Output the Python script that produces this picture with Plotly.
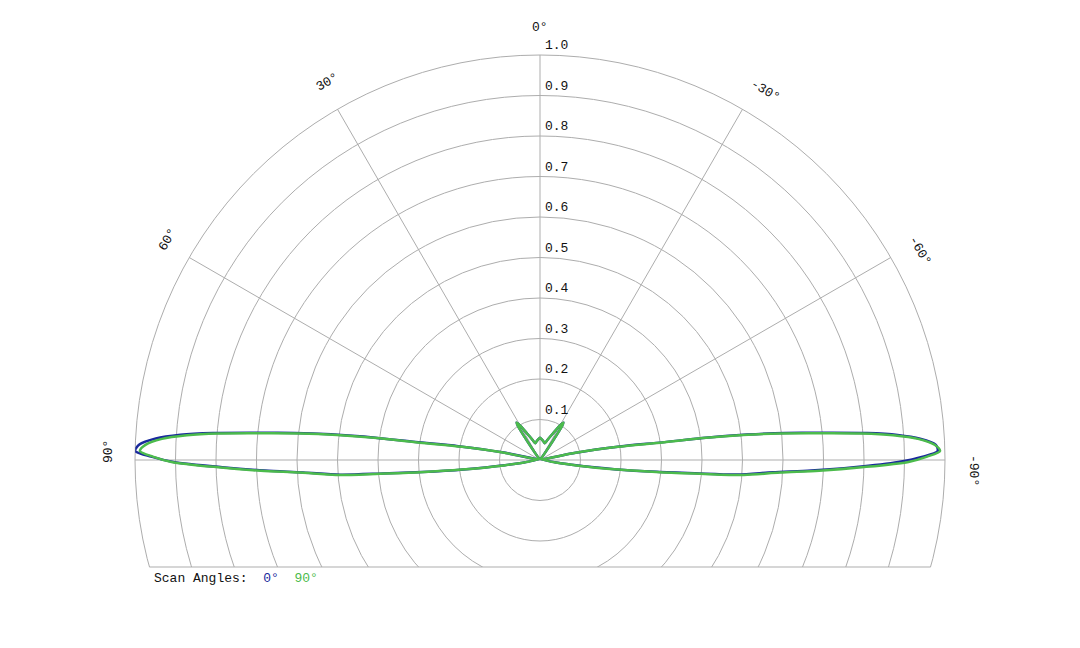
import math
import plotly.graph_objects as go

# Patrón de radiación normalizado (ángulo en grados, 0° arriba)
THETA_DEG = [
    -180, -100.5, -98.5, -97.0, -95.8, -94.9, -94.2, -93.0, -92.2, -91.3,
    -90.3, -89.5, -88.7, -87.8, -86.8, -86.0, -85.3, -84.5, -83.7, -83.0,
    -82.3, -81.8, -80.4, -78.5, -76.5,
    -36, -35, -34, -33, -32, -30, -27, -24, -20, -16,
    -10, -5, 0, 5, 10, 16, 20, 24, 27, 30,
    32, 33, 34, 35, 36,
    76.5, 78.5, 80.4, 81.8, 82.3, 83.0, 83.7, 84.5, 85.3, 86.0,
    86.8, 87.8, 88.7, 89.5, 90.3, 91.3, 92.2, 93.0, 94.2, 94.9,
    95.8, 97.0, 98.5, 100.5, 180,
]

R_SCAN_0 = [
    0, 0, 0.085, 0.19, 0.29, 0.385, 0.49, 0.575, 0.67, 0.775,
    0.885, 0.945, 0.982, 0.978, 0.94, 0.885, 0.81, 0.70, 0.61, 0.515,
    0.405, 0.305, 0.20, 0.09, 0,
    0, 0.02, 0.06, 0.10, 0.109, 0.098, 0.078, 0.065, 0.052, 0.043,
    0.047, 0.051, 0.055, 0.051, 0.047, 0.043, 0.052, 0.065, 0.078, 0.098,
    0.109, 0.10, 0.06, 0.02, 0,
    0, 0.095, 0.205, 0.31, 0.41, 0.52, 0.61, 0.70, 0.81, 0.89,
    0.95, 0.99, 1.0, 0.96, 0.905, 0.785, 0.68, 0.585, 0.495, 0.39,
    0.292, 0.19, 0.088, 0, 0,
]

R_SCAN_90 = [
    0, 0, 0.09, 0.195, 0.298, 0.397, 0.505, 0.593, 0.69, 0.795,
    0.91, 0.956, 0.988, 0.975, 0.935, 0.874, 0.797, 0.687, 0.596, 0.505,
    0.399, 0.299, 0.195, 0.09, 0,
    0, 0.02, 0.06, 0.10, 0.109, 0.098, 0.078, 0.065, 0.052, 0.043,
    0.047, 0.051, 0.055, 0.051, 0.047, 0.043, 0.052, 0.065, 0.078, 0.098,
    0.109, 0.10, 0.06, 0.02, 0,
    0, 0.09, 0.195, 0.299, 0.399, 0.505, 0.596, 0.687, 0.797, 0.874,
    0.935, 0.975, 0.988, 0.956, 0.91, 0.795, 0.69, 0.593, 0.505, 0.397,
    0.298, 0.195, 0.09, 0, 0,
]

ANGLE_TICKS = [0, 30, 60, 90, -30, -60, -90]
RADIAL_TICKS = [0.1, 0.2, 0.3, 0.4, 0.5, 0.6, 0.7, 0.8, 0.9, 1.0]

# Geometría de la figura (px de pantalla; la página tiene 8 px de margen)
W, H = 1080, 648
OFF = 8
CX, CY, R_PX = 540, 460, 405
CHORD_Y = 567
BLUE = "#1a2a9c"
GREEN = "#4cbb4c"
GRID = "#adadad"
FONT = "Courier New, Liberation Mono, monospace"


def px_x(x):
    return (x - OFF) / W


def px_y(y):
    return 1 - (y - OFF) / H


fig = go.Figure()
fig.add_trace(go.Scatterpolar(r=R_SCAN_0, theta=THETA_DEG, mode="lines",
                              line=dict(color=BLUE, width=2.5, shape="spline", smoothing=0.8),
                              name="0°"))
fig.add_trace(go.Scatterpolar(r=R_SCAN_90, theta=THETA_DEG, mode="lines",
                              line=dict(color=GREEN, width=2.5, shape="spline", smoothing=0.8),
                              name="90°"))

low = CY + R_PX * math.sin(math.radians(15))

fig.update_layout(
    width=W, height=H,
    margin=dict(l=0, r=0, t=0, b=0),
    paper_bgcolor="white",
    showlegend=False,
    font=dict(family=FONT, size=13, color="#111"),
    polar=dict(
        domain=dict(x=[px_x(CX - R_PX), px_x(CX + R_PX)], y=[px_y(low), px_y(CY - R_PX)]),
        sector=[-15, 195],
        bgcolor="rgba(0,0,0,0)",
        angularaxis=dict(rotation=90, direction="counterclockwise",
                         tickmode="array", tickvals=ANGLE_TICKS,
                         showticklabels=False, ticks="", showline=False,
                         showgrid=True, gridcolor=GRID, gridwidth=1),
        radialaxis=dict(range=[0, 1], showgrid=False, showticklabels=False,
                        ticks="", showline=False),
    ),
)

# Círculos de la rejilla, recortados por la cuerda inferior
shapes = []
for v in RADIAL_TICKS:
    rp = v * R_PX
    shapes.append(dict(type="circle", xref="paper", yref="paper", layer="below",
                       xsizemode="pixel", ysizemode="pixel",
                       xanchor=px_x(CX), yanchor=px_y(CY),
                       x0=-rp, x1=rp, y0=-rp, y1=rp,
                       line=dict(color=GRID, width=1)))
shapes.append(dict(type="rect", xref="paper", yref="paper", layer="below",
                   x0=0, x1=1, y0=0, y1=px_y(CHORD_Y),
                   fillcolor="white", line=dict(width=0)))
half = math.sqrt(R_PX ** 2 - (CHORD_Y - CY) ** 2)
shapes.append(dict(type="line", xref="paper", yref="paper", layer="below",
                   x0=px_x(CX - half), x1=px_x(CX + half),
                   y0=px_y(CHORD_Y), y1=px_y(CHORD_Y),
                   line=dict(color=GRID, width=1)))
fig.update_layout(shapes=shapes)

annotations = []
# Etiquetas radiales
for v in RADIAL_TICKS:
    annotations.append(dict(x=px_x(CX + 3), y=px_y(CY - v * R_PX), xref="paper", yref="paper",
                            text=f"{v:.1f}", showarrow=False, xanchor="left", yanchor="bottom"))
# Etiquetas angulares, giradas tangentes al arco
label_pos = {0: (540, 27), 30: (327, 83), 60: (167, 240), 90: (108, 452),
             -30: (765, 90), -60: (920, 250), -90: (973, 470)}
for a in ANGLE_TICKS:
    x, y = label_pos[a]
    annotations.append(dict(x=px_x(x), y=px_y(y), xref="paper", yref="paper",
                            text=f"{a}°", showarrow=False, textangle=-a,
                            xanchor="center", yanchor="middle"))
# Leyenda
annotations.append(dict(
    x=px_x(152), y=px_y(578), xref="paper", yref="paper", showarrow=False,
    xanchor="left", yanchor="middle",
    text=(f"Scan Angles:\u00a0\u00a0<span style='color:{BLUE}'>0°</span>"
          f"\u00a0\u00a0<span style='color:{GREEN}'>90°</span>"),
))
fig.update_layout(annotations=annotations)

fig.write_html("out.html")
